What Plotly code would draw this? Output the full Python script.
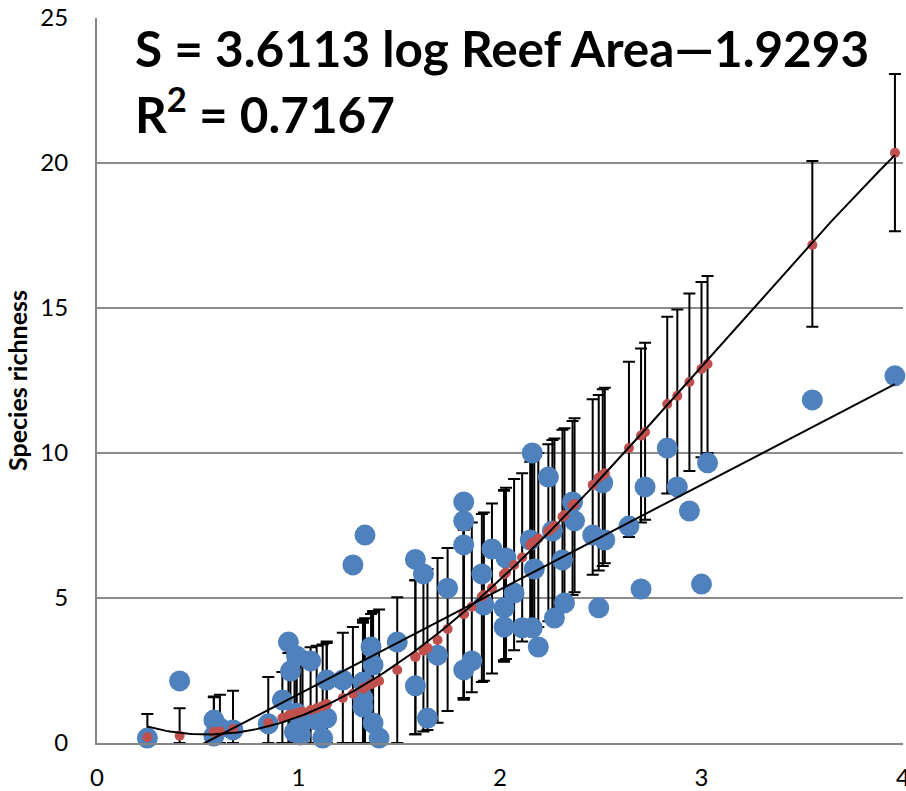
import numpy as np
import plotly.graph_objects as go

# log reef area (x) for each site
log_area = [0.25, 0.41, 0.58, 0.58, 0.61, 0.675, 0.85, 0.92, 0.95, 0.96,
            0.98, 0.99, 0.99, 1.01, 1.02, 1.06, 1.09, 1.12, 1.14, 1.14,
            1.22, 1.27, 1.32, 1.32, 1.32, 1.33, 1.36, 1.37, 1.37, 1.40,
            1.49, 1.58, 1.58, 1.62, 1.64, 1.69, 1.74, 1.82, 1.82, 1.82,
            1.82, 1.86, 1.91, 1.92, 1.96, 2.02, 2.02, 2.03, 2.07, 2.11,
            2.15, 2.16, 2.16, 2.17, 2.19, 2.24, 2.26, 2.27, 2.31, 2.32,
            2.36, 2.37, 2.46, 2.49, 2.51, 2.52, 2.64, 2.70, 2.72, 2.83,
            2.88, 2.94, 3.00, 3.03, 3.55, 3.96]

# observed species richness (blue)
observed = [0.17, 2.14, 0.79, 0.24, 0.52, 0.45, 0.66, 1.48, 3.48, 2.48,
            0.38, 3.00, 1.03, 0.28, 0.72, 2.83, 0.79, 0.17, 2.17, 0.86,
            2.17, 6.14, 2.10, 1.55, 1.24, 7.17, 3.31, 2.69, 0.69, 0.17,
            3.48, 6.33, 1.97, 5.83, 0.86, 3.03, 5.34, 8.31, 7.66, 6.83,
            2.52, 2.83, 5.83, 4.76, 6.69, 4.66, 4.00, 6.38, 5.17, 3.97,
            7.00, 10.00, 3.97, 6.00, 3.31, 9.17, 7.31, 4.31, 6.31, 4.83,
            8.31, 7.66, 7.17, 4.66, 8.97, 7.00, 7.48, 5.31, 8.83, 10.17,
            8.83, 8.00, 5.48, 9.66, 11.83, 12.66]

# predicted species richness (red)
predicted = [0.20, 0.25, 0.38, 0.38, 0.40, 0.48, 0.69, 0.86, 0.95, 0.97,
             1.00, 1.02, 1.02, 1.06, 1.08, 1.14, 1.20, 1.28, 1.34, 1.34,
             1.55, 1.70, 1.88, 1.88, 1.88, 1.92, 2.03, 2.07, 2.07, 2.14,
             2.52, 2.97, 2.97, 3.18, 3.28, 3.55, 3.93, 4.45, 4.45, 4.45,
             4.45, 4.70, 5.05, 5.10, 5.34, 5.82, 5.82, 5.88, 6.14, 6.40,
             6.83, 6.90, 6.90, 6.93, 7.05, 7.30, 7.41, 7.48, 7.80, 7.86,
             8.20, 8.24, 8.90, 9.15, 9.25, 9.30, 10.17, 10.60, 10.72, 11.69,
             11.97, 12.45, 12.90, 13.07, 17.17, 20.35]

# upper and lower limits of the prediction interval
ci_upper = [1.00, 1.20, 1.58, 1.60, 1.66, 1.80, 2.28, 2.45, 3.10, 3.15,
            3.05, 3.20, 3.25, 3.15, 3.05, 3.30, 3.35, 3.40, 3.50, 3.45,
            3.80, 4.00, 4.15, 4.20, 4.25, 4.30, 4.45, 4.50, 4.55, 4.60,
            5.03, 5.62, 5.60, 5.90, 6.00, 6.38, 6.72, 7.45, 7.40, 7.35,
            7.50, 7.60, 7.90, 7.95, 8.26, 8.72, 8.70, 8.80, 9.10, 9.30,
            9.70, 9.75, 9.80, 9.85, 10.00, 10.30, 10.45, 10.50, 10.80, 10.85,
            11.10, 11.20, 11.85, 12.00, 12.20, 12.25, 13.15, 13.60, 13.80, 14.70,
            14.95, 15.50, 15.90, 16.10, 20.07, 23.07]
ci_lower = [0, 0, 0, 0, 0, 0, 0, 0, 0, 0,
            0, 0, 0, 0, 0, 0, 0, 0, 0, 0,
            0, 0, 0, 0, 0, 0, 0, 0, 0, 0,
            0, 0.30, 0.30, 0.40, 0.45, 0.70, 1.10, 1.50, 1.50, 1.55,
            1.55, 1.75, 2.10, 2.15, 2.40, 2.80, 2.85, 2.90, 3.20, 3.50,
            3.75, 3.80, 3.80, 3.85, 4.00, 4.20, 4.30, 4.40, 4.75, 4.80,
            5.10, 5.20, 5.80, 5.95, 6.10, 6.20, 7.10, 7.60, 7.70, 8.60,
            8.90, 9.38, 9.85, 10.00, 14.35, 17.65]

# linear regression shown in the chart
slope = 3.6113
intercept = -1.9293

x_ticks = [0, 1, 2, 3, 4]
y_ticks = [0, 5, 10, 15, 20, 25]

x = np.array(log_area)
pred = np.array(predicted)
err_plus = np.array(ci_upper) - pred
err_minus = pred - np.array(ci_lower)

# cubic trendline of predicted values
coef = np.polyfit(x, pred, 3)
xs = np.linspace(x.min(), x.max(), 200)
curve = np.polyval(coef, xs)
lin_x = np.linspace(x.min(), x.max(), 50)
lin_y = slope * lin_x + intercept

BLUE = "#4F81BD"
RED = "#C0504D"
FONT = "Lato, 'Open Sans', sans-serif"

fig = go.Figure()
fig.add_trace(go.Scatter(
    x=log_area, y=predicted, mode="markers",
    marker=dict(size=1, color="rgba(0,0,0,0)"),
    error_y=dict(type="data", symmetric=False, array=err_plus, arrayminus=err_minus,
                 color="black", thickness=2, width=6),
    hoverinfo="skip", showlegend=False))
fig.add_trace(go.Scatter(
    x=log_area, y=observed, mode="markers",
    marker=dict(size=21, color=BLUE, line=dict(width=0)),
    showlegend=False, cliponaxis=False))
fig.add_trace(go.Scatter(
    x=log_area, y=predicted, mode="markers",
    marker=dict(size=10, color=RED, line=dict(width=0)),
    showlegend=False, cliponaxis=False))
fig.add_trace(go.Scatter(
    x=xs, y=curve, mode="lines", line=dict(color="black", width=2),
    showlegend=False))
fig.add_trace(go.Scatter(
    x=lin_x, y=lin_y, mode="lines", line=dict(color="black", width=2),
    showlegend=False))

fig.add_annotation(
    text="S = 3.6113 log Reef Area\u20141.9293", xref="paper", yref="paper",
    x=0.045, y=0.9586, xanchor="left", yanchor="middle", showarrow=False,
    font=dict(family=FONT, size=49.5, color="black", weight="bold"))
fig.add_annotation(
    text="R<sup>2</sup> = 0.7167", xref="paper", yref="paper",
    x=0.045, y=0.872, xanchor="left", yanchor="middle", showarrow=False,
    font=dict(family=FONT, size=49.5, color="black", weight="bold"))

fig.update_layout(
    width=906, height=791,
    margin=dict(l=97, r=3, t=18, b=48),
    plot_bgcolor="white", paper_bgcolor="white",
    font=dict(family=FONT, size=24, color="black"),
    xaxis=dict(range=[0, 4], tickvals=x_ticks, showgrid=False, zeroline=False,
               showline=True, linecolor="#868686", linewidth=2, ticks="",
               ticklabelstandoff=12, automargin=False, ticklabeloverflow="allow"),
    yaxis=dict(range=[0, 25], tickvals=y_ticks, showgrid=True, gridcolor="#8c8c8c",
               gridwidth=1.5, zeroline=False, showline=True, linecolor="#868686",
               linewidth=2, ticks="", ticklabelstandoff=22, automargin=False,
               ticklabeloverflow="allow",
               title=dict(text="<b>Species richness</b>", font=dict(size=25), standoff=6)),
)

fig.write_html("out.html", config={"displayModeBar": False},
               post_script="document.body.style.margin='0';document.body.style.overflow='hidden';")
